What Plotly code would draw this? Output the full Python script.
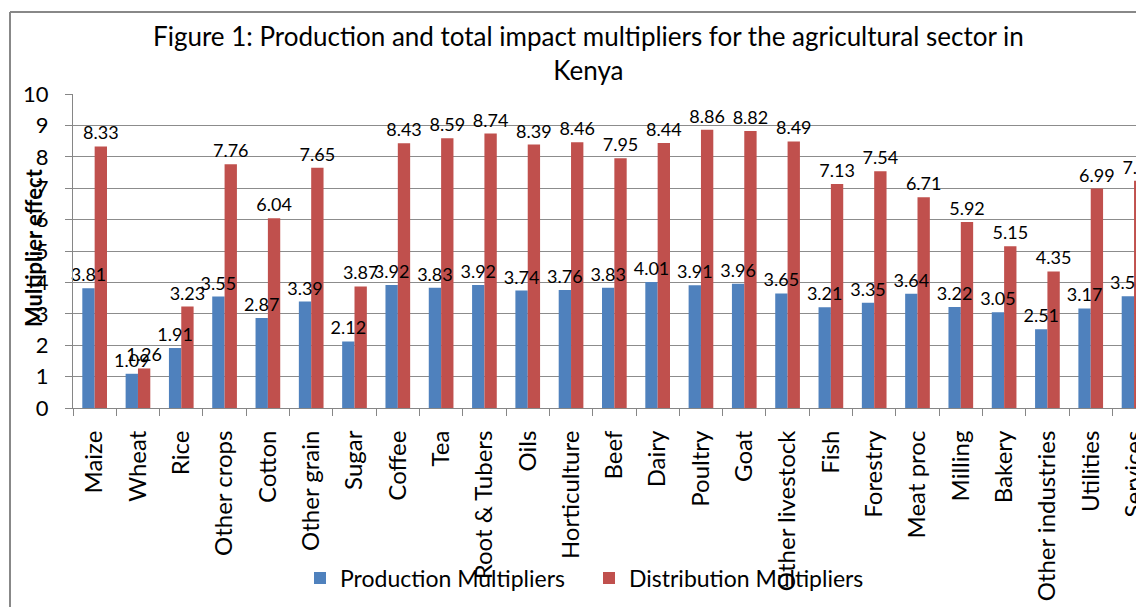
import plotly.graph_objects as go

categories = ["Maize", "Wheat", "Rice", "Other crops", "Cotton", "Other grain", "Sugar", "Coffee",
              "Tea", "Root & Tubers", "Oils", "Horticulture", "Beef", "Dairy", "Poultry", "Goat",
              "Other livestock", "Fish", "Forestry", "Meat proc", "Milling", "Bakery",
              "Other industries", "Utilities", "Services"]
production = [3.81, 1.09, 1.91, 3.55, 2.87, 3.39, 2.12, 3.92, 3.83, 3.92, 3.74, 3.76, 3.83, 4.01,
              3.91, 3.96, 3.65, 3.21, 3.35, 3.64, 3.22, 3.05, 2.51, 3.17, 3.56]
distribution = [8.33, 1.26, 3.23, 7.76, 6.04, 7.65, 3.87, 8.43, 8.59, 8.74, 8.39, 8.46, 7.95, 8.44,
                8.86, 8.82, 8.49, 7.13, 7.54, 6.71, 5.92, 5.15, 4.35, 6.99, 7.24]
y_ticks = [0, 1, 2, 3, 4, 5, 6, 7, 8, 9, 10]

FONT = "Lato"
OFF = 8  # page body margin
W, H = 1144 - OFF, 607 - OFF
L, T = 73 - OFF, 94 - OFF
R, B = 0, 607 - 408
pw, ph = W - L - R, H - T - B

def px_x(x):
    return (x - OFF - L) / pw

def px_y(y):
    return (H - B - (y - OFF)) / ph

series = [("Production Multipliers", production, "#4F81BD", "p"),
          ("Distribution Multipliers", distribution, "#C0504D", "d")]

fig = go.Figure()
# bars
for name, vals, color, grp in series:
    fig.add_trace(go.Bar(x=categories, y=vals, name=name, offsetgroup=grp,
                         marker=dict(color=color, line=dict(width=0))))
# labels on top of all bars (transparent duplicate bars carrying the text)
for name, vals, color, grp in series:
    fig.add_trace(go.Bar(x=categories, y=vals, name=name, offsetgroup=grp, showlegend=False,
                         marker=dict(color="rgba(0,0,0,0)", line=dict(width=0)),
                         text=[f"{v:.2f}" for v in vals], textposition="outside",
                         constraintext="none", hoverinfo="skip",
                         textfont=dict(family=FONT, size=18, color="black"), cliponaxis=False))

fig.update_layout(
    width=W, height=H,
    margin=dict(l=L, r=R, t=T, b=B, autoexpand=False),
    paper_bgcolor="white", plot_bgcolor="white",
    barmode="group", bargap=0.43, bargroupgap=0,
    font=dict(family=FONT, color="black"),
    showlegend=True,
    legend=dict(orientation="h", x=px_x(300), y=px_y(578), xanchor="left", yanchor="middle",
                font=dict(family=FONT, size=23), itemwidth=30, entrywidth=244,
                bgcolor="rgba(0,0,0,0)"),
    xaxis=dict(range=[-0.5, 24.23], tickangle=-90, tickfont=dict(family=FONT, size=24),
               showline=True, linecolor="#868686", linewidth=1, ticks="outside",
               tickson="boundaries", ticklen=7, tickcolor="#868686", showgrid=False,
               ticklabelstandoff=12),
    yaxis=dict(range=[0, 10], tickvals=y_ticks, tickfont=dict(family=FONT, size=22),
               ticksuffix="\u2007",
               showline=True, linecolor="#868686", linewidth=1, ticks="outside", ticklen=7,
               tickcolor="#868686", showgrid=True, gridcolor="#8C8C8C", gridwidth=1,
               zeroline=False, ticklabelstandoff=12),
)

fig.add_annotation(text="Figure 1: Production and total impact multipliers for the agricultural sector in<br>Kenya",
                   xref="paper", yref="paper", x=px_x(588), y=px_y(53), xanchor="center", yanchor="middle",
                   showarrow=False, font=dict(family=FONT, size=26))
fig.add_annotation(text="<b>Multiplier effect</b>", xref="paper", yref="paper", x=px_x(33), y=px_y(248),
                   xanchor="center", yanchor="middle", textangle=-90, showarrow=False,
                   font=dict(family=FONT, size=22))

# chart area border (partially visible)
fig.add_shape(type="line", xref="paper", yref="paper", x0=px_x(10), x1=px_x(10), y0=px_y(12), y1=px_y(620),
              line=dict(color="#888888", width=2))
fig.add_shape(type="line", xref="paper", yref="paper", x0=px_x(10), x1=px_x(1160), y0=px_y(12), y1=px_y(12),
              line=dict(color="#888888", width=2))

fig.write_html("out.html")
